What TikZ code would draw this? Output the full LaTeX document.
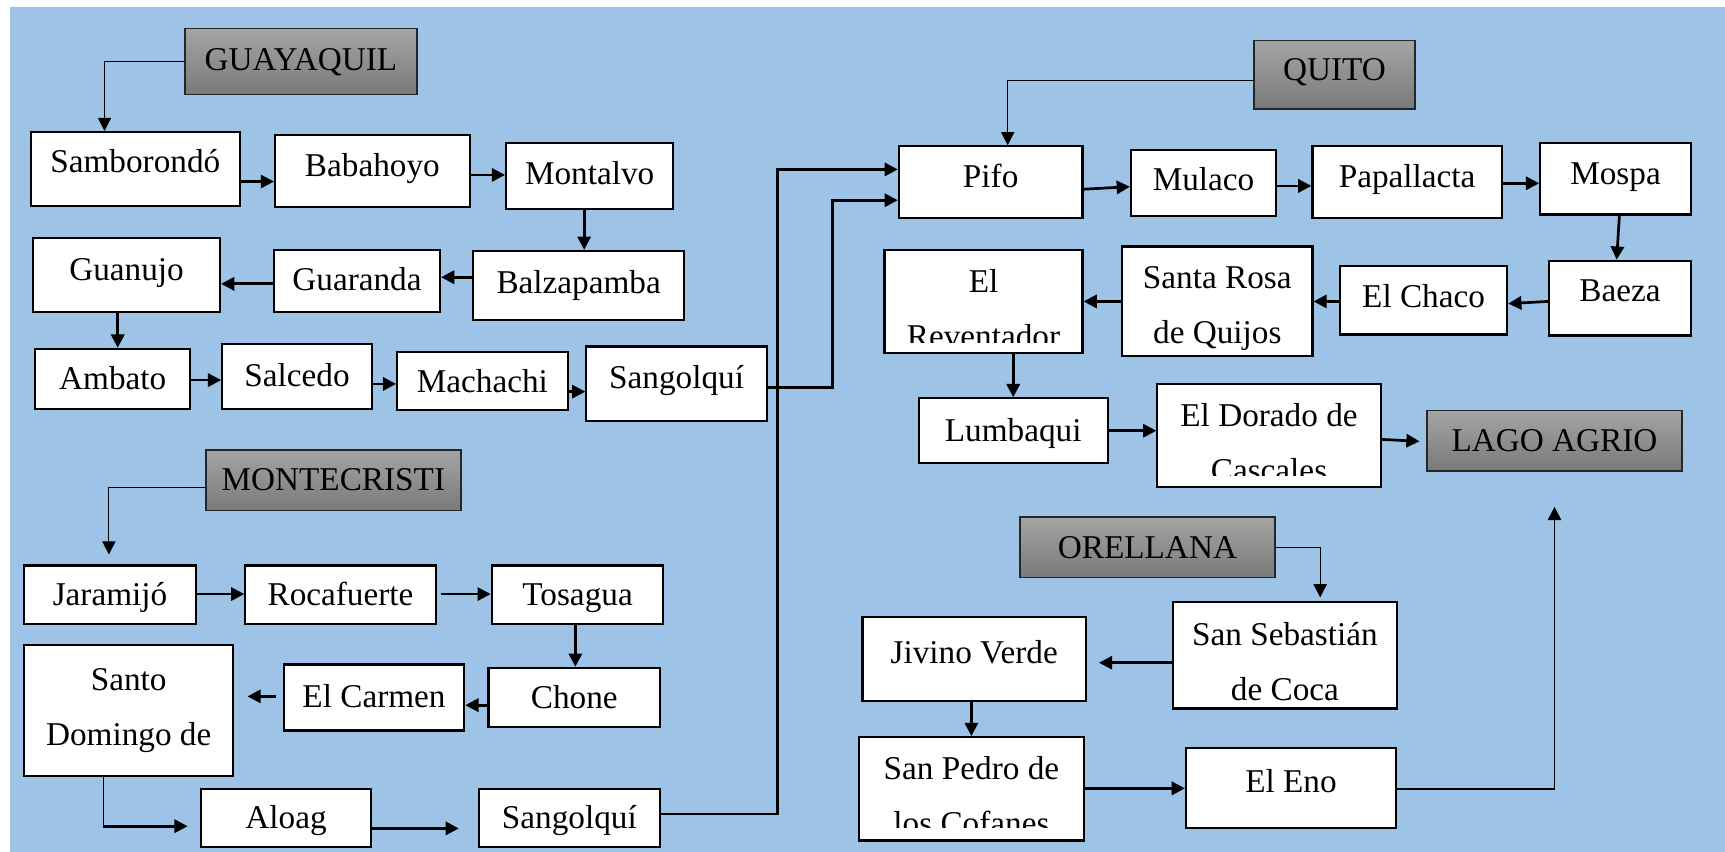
\documentclass[tikz,border=0pt]{standalone}
\usepackage{fontspec}
\setmainfont{Liberation Serif}
\usetikzlibrary{positioning, arrows.meta}
\definecolor{bgblue}{HTML}{9DC3E6}
\definecolor{citytop}{HTML}{A4A4A4}
\definecolor{citybot}{HTML}{7A7A7A}
\newcommand{\lowline}{\rule{0pt}{0.67cm}}
\tikzset{
  place/.style={draw=black, line width=1.1pt, fill=white, inner sep=0pt, font=\fontsize{17.2}{28.5}\selectfont},
  cbox/.style={place, text height=0.4cm, text depth=#1},
  cbox/.default=0cm,
  tbox/.style={place, align=center},
  city/.style={draw=black!85, line width=0.8pt, top color=citytop, bottom color=citybot, inner sep=0pt, text height=0.4cm, text depth=#1, font=\fontsize{17.2}{28.5}\selectfont},
  city/.default=0cm,
  arr/.style={line width=1.4pt, -{Triangle[length=0.24cm, width=0.24cm]}},
  thinarr/.style={line width=0.6pt, -{Triangle[length=0.24cm, width=0.24cm]}}
}

\begin{document}
\begin{tikzpicture}[x=0.02cm, y=-0.02cm]
\useasboundingbox (0,0) rectangle (1568,774);
\fill[bgblue] (9,6) rectangle (1568,774);

% Guayaquil
\node[city=0.08cm, minimum width=4.22cm, minimum height=1.2cm] (guay) at (273.5,56) {GUAYAQUIL};
\node[cbox=0.25cm, minimum width=3.8cm, minimum height=1.34cm] (samb) at (123,153.5) {Samborondó};
\node[cbox=0.22cm, minimum width=3.54cm, minimum height=1.3cm] (baba) at (338.5,155.5) {Babahoyo};
\node[cbox=0.1cm, minimum width=3.04cm, minimum height=1.2cm] (mont) at (536,160) {Montalvo};
\node[cbox=0.12cm, minimum width=3.84cm, minimum height=1.26cm] (balz) at (526,259.5) {Balzapamba};
\node[cbox=0.04cm, minimum width=3.02cm, minimum height=1.14cm] (guar) at (324.5,255.5) {Guaranda};
\node[cbox=0.2cm, minimum width=3.4cm, minimum height=1.36cm] (guan) at (115,250) {Guanujo};
\node[cbox, minimum width=2.82cm, minimum height=1.1cm] (amba) at (102.5,344.5) {Ambato};
\node[cbox=0.06cm, minimum width=2.72cm, minimum height=1.18cm] (salc) at (270,342.5) {Salcedo};
\node[cbox, minimum width=3.1cm, minimum height=1.06cm] (mach) at (438.5,346.5) {Machachi};
\node[cbox=0.25cm, minimum width=3.28cm, minimum height=1.36cm] (sang1) at (615,349) {Sangolquí};

% Quito
\node[city=0.18cm, minimum width=2.92cm, minimum height=1.24cm] (quito) at (1213,68) {QUITO};
\node[cbox=0.2cm, minimum width=3.34cm, minimum height=1.3cm] (pifo) at (900.5,165.5) {Pifo};
\node[cbox=0.1cm, minimum width=2.64cm, minimum height=1.2cm] (mula) at (1094,166) {Mulaco};
\node[cbox=0.2cm, minimum width=3.44cm, minimum height=1.3cm] (papa) at (1279,165.5) {Papallacta};
\node[cbox=0.2cm, minimum width=2.74cm, minimum height=1.3cm] (mosp) at (1468.5,162.5) {Mospa};
\node[cbox=0.28cm, minimum width=2.58cm, minimum height=1.36cm] (baez) at (1472.5,271) {Baeza};
\node[cbox=0.13cm, minimum width=3.04cm, minimum height=1.24cm] (chac) at (1294,273) {El Chaco};
\node[tbox, minimum width=3.46cm, minimum height=2cm] (sros) at (1106.5,274) {\lowline Santa Rosa\\de Quijos};
\node[tbox, minimum width=3.6cm, minimum height=1.88cm] (reve) at (894,274) {\lowline El\\Reventador};
\node[cbox, minimum width=3.44cm, minimum height=1.18cm] (lumb) at (921,391.5) {Lumbaqui};
\node[tbox, minimum width=4.06cm, minimum height=1.88cm] (dora) at (1153.5,396) {\lowline El Dorado de\\Cascales};
\node[city, minimum width=4.64cm, minimum height=1.1cm] (lago) at (1413,400.5) {LAGO AGRIO};

% Montecristi
\node[city=0.04cm, minimum width=4.64cm, minimum height=1.1cm] (mcri) at (303,436.5) {MONTECRISTI};
\node[cbox, minimum width=3.12cm, minimum height=1.06cm] (jara) at (100,540.5) {Jaramijó};
\node[cbox, minimum width=3.46cm, minimum height=1.06cm] (roca) at (309.5,540.5) {Rocafuerte};
\node[cbox, minimum width=3.12cm, minimum height=1.06cm] (tosa) at (525,540.5) {Tosagua};
\node[cbox, minimum width=3.12cm, minimum height=1.08cm] (chon) at (522,634) {Chone};
\node[cbox=0.05cm, minimum width=3.28cm, minimum height=1.2cm] (carm) at (340,634) {El Carmen};
\node[tbox, minimum width=3.8cm, minimum height=2.38cm] (sdom) at (117,645.5) {Santo\\Domingo de};
\node[cbox, minimum width=3.08cm, minimum height=1.06cm] (aloa) at (260,743.5) {Aloag};
\node[cbox, minimum width=3.3cm, minimum height=1.06cm] (sang2) at (517.5,743.5) {Sangolquí};

% Orellana
\node[city, minimum width=4.64cm, minimum height=1.1cm] (orel) at (1043,497.5) {ORELLANA};
\node[tbox, minimum width=4.08cm, minimum height=1.94cm] (sseb) at (1168,595.5) {\lowline San Sebastián\\de Coca};
\node[cbox=0.25cm, minimum width=4.06cm, minimum height=1.52cm] (jivi) at (885.5,599) {Jivino Verde};
\node[tbox, minimum width=4.08cm, minimum height=1.88cm] (sped) at (883,717) {\lowline San Pedro de\\los Cofanes};
\node[cbox=0.24cm, minimum width=3.82cm, minimum height=1.46cm] (eno) at (1173.5,716.5) {El Eno};

% text cut off at the bottom of the boxes
\fill[white] (806,312) rectangle (982,319.5);
\fill[white] (1054,433) rectangle (1253,441.5);
\fill[white] (783,752.7) rectangle (983,762.5);

% connectors
\draw[thinarr] (guay.west) -| (samb.north -| 95,0);
\draw[arr] (samb.east |- 0,165) -- (baba.west |- 0,165);
\draw[arr] (baba.east |- 0,159) -- (mont.west |- 0,159);
\draw[arr] (mont.south -| 531,0) -- (balz.north -| 531,0);
\draw[arr] (balz.west |- 0,252) -- (guar.east |- 0,252);
\draw[arr] (guar.west |- 0,258) -- (guan.east |- 0,258);
\draw[arr] (guan.south -| 107,0) -- (amba.north -| 107,0);
\draw[arr] (amba.east |- 0,345.5) -- (salc.west |- 0,345.5);
\draw[arr] (salc.east |- 0,349) -- (mach.west |- 0,349);
\draw[arr] (mach.east |- 0,356) -- (sang1.west |- 0,356);
\draw[arr] (sang1.east |- 0,352) -| (757,182) -- (pifo.west |- 0,182);
\draw[arr] (sang2.east |- 0,740) -| (707,154) -- (pifo.west |- 0,154);

\draw[thinarr] (quito.west |- 0,73) -| (pifo.north -| 916,0);
\draw[arr] (pifo.east |- 0,172) -- (mula.west |- 0,169.7);
\draw[arr] (mula.east |- 0,169) -- (papa.west |- 0,169);
\draw[arr] (papa.east |- 0,166.6) -- (mosp.west |- 0,166.6);
\draw[arr] (mosp.south -| 1472,0) -- (baez.north -| 1469.5,0);
\draw[arr] (baez.west |- 0,274) -- (chac.east |- 0,276);
\draw[arr] (chac.west |- 0,274) -- (sros.east |- 0,274);
\draw[arr] (sros.west |- 0,274) -- (reve.east |- 0,274);
\draw[arr] (reve.south -| 921,0) -- (lumb.north -| 921,0);
\draw[arr] (lumb.east |- 0,391.5) -- (dora.west |- 0,391.5);
\draw[arr, shorten >=0.12cm] (dora.east |- 0,399.4) -- (lago.west |- 0,401.5);

\draw[thinarr, shorten >=0.18cm] (mcri.west |- 0,443) -| (jara.north -| 99,0);
\draw[arr] (jara.east |- 0,540) -- (roca.west |- 0,540);
\draw[arr, shorten <=0.08cm] (roca.east |- 0,540) -- (tosa.west |- 0,540);
\draw[arr] (tosa.south -| 523,0) -- (chon.north -| 523,0);
\draw[arr] (chon.west |- 0,641) -- (carm.east |- 0,641);
\draw[arr, shorten <=0.12cm, shorten >=0.24cm] (carm.west |- 0,633) -- (sdom.east |- 0,633);
\draw[line width=0.6pt] (sdom.south -| 94,0) -- (94,751) coordinate (sdbend);
\draw[arr, shorten >=0.23cm] (sdbend) -- (aloa.west |- 0,751);
\draw[arr, shorten >=0.34cm] (aloa.east |- 0,753) -- (sang2.west |- 0,753);

\draw[thinarr, shorten >=0.06cm] (orel.east |- 0,498) -| (sseb.north -| 1200,0);
\draw[arr, shorten >=0.22cm] (sseb.west |- 0,602.4) -- (jivi.east |- 0,602.4);
\draw[arr] (jivi.south -| 883,0) -- (sped.north -| 883,0);
\draw[arr] (sped.east |- 0,716.6) -- (eno.west |- 0,716.6);
\draw[arr, line width=1pt, shorten >=0.64cm] (eno.east |- 0,717) -| (lago.south);
\end{tikzpicture}
\end{document}
